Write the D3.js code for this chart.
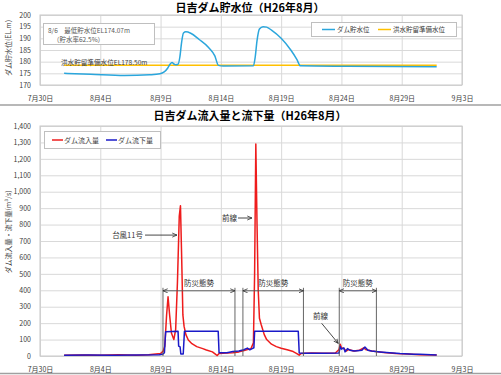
<!DOCTYPE html>
<html lang="ja">
<head>
<meta charset="UTF-8" />
<title>日吉ダム貯水位・流入量と流下量</title>
<script src="https://d3js.org/d3.v7.min.js"></script>
<style>
  body { margin: 0; background: #fff; }
  svg text { font-family: "Noto Sans CJK JP", "Noto Sans", sans-serif; }
</style>
</head>
<body>
<div class="chart"></div>
<script>
// x軸（7/30〜9/3、5日ごと）
const tickLabels = ["7月30日", "8月4日", "8月9日", "8月14日", "8月19日", "8月24日", "8月29日", "9月3日"];

// 貯水位（8月の日付、小数は時刻）
const levelDays = [1.0, 3.2, 6.0, 8.1, 8.95, 9.3, 9.6, 9.8, 9.95, 10.1, 10.25, 10.45, 10.6, 10.75, 10.9, 11.1, 11.5, 12.2, 13.0, 13.5, 13.8, 14.2, 16.7, 16.85, 17.0, 17.2, 17.5, 17.8, 18.2, 19.0, 19.8, 20.3, 20.6, 24.5, 31.9];
const levelValues = [175.0, 174.6, 174.07, 174.4, 174.8, 175.6, 177.3, 179.0, 179.6, 179.0, 178.7, 178.9, 182.0, 188.5, 192.3, 192.8, 192.2, 189.5, 186.0, 182.5, 178.4, 178.1, 178.2, 182.0, 189.0, 194.0, 195.0, 194.8, 193.5, 190.0, 185.0, 181.0, 178.2, 178.0, 177.8];
const prepDays = [1.0, 31.9];
const prepLevel = 178.5;

// 流入量
const inflowDays = [1.0, 2.5, 4.0, 5.5, 7.0, 8.0, 8.6, 9.0, 9.2, 9.35, 9.5, 9.62, 9.75, 9.9, 10.1, 10.25, 10.4, 10.55, 10.65, 10.75, 10.85, 10.95, 11.1, 11.3, 11.6, 12.0, 12.5, 12.8, 13.3, 13.6, 13.7, 13.85, 14.5, 15.0, 15.5, 16.0, 16.5, 16.7, 16.8, 16.9, 17.0, 17.1, 17.2, 17.35, 17.6, 17.8, 18.2, 18.6, 19.0, 19.5, 20.0, 20.3, 20.5, 20.65, 21.5, 22.5, 23.5, 23.8, 23.9, 24.0, 24.2, 24.4, 24.6, 25.0, 25.5, 25.85, 26.0, 26.5, 27.5, 28.5, 29.5, 30.5, 31.9];
const inflowValues = [5, 6, 4, 7, 5, 8, 12, 15, 28, 60, 250, 360, 250, 140, 100, 160, 450, 850, 915, 600, 250, 180, 130, 97, 75, 57, 45, 37, 25, 8, 3, 15, 18, 20, 25, 35, 45, 80, 500, 1290, 800, 400, 230, 190, 130, 100, 72, 57, 47, 38, 27, 15, 5, 15, 18, 16, 18, 40, 72, 50, 45, 30, 40, 30, 35, 50, 40, 30, 22, 15, 12, 8, 6];

// 流下量
const outflowDays = [1.0, 3.0, 5.0, 7.0, 8.9, 9.2, 9.32, 9.42, 10.45, 10.5, 10.62, 10.68, 10.88, 10.98, 13.78, 13.85, 14.5, 15.0, 15.5, 15.9, 16.2, 16.4, 16.6, 16.74, 16.8, 20.42, 20.5, 21.0, 22.5, 23.8, 23.9, 24.0, 24.2, 24.3, 24.5, 24.7, 25.1, 25.7, 25.95, 26.2, 26.5, 27.2, 28.0, 28.85, 30.0, 30.5, 31.9];
const outflowValues = [5, 6, 5, 6, 8, 12, 20, 148, 150, 60, 55, 12, 12, 150, 150, 20, 20, 28, 30, 38, 48, 38, 45, 50, 150, 150, 18, 16, 16, 18, 58, 42, 50, 25, 45, 35, 30, 35, 55, 35, 30, 25, 20, 15, 11, 10, 6];

// 防災態勢（開始・終了）
const stanceStart = [9.2, 15.83, 23.82];
const stanceEnd = [15.17, 20.85, 26.9];

const W = 501, H = 375;
const font = '"Noto Sans CJK JP", "Noto Sans", sans-serif';
const toDate = d => new Date(new Date(2014, 7, 1).getTime() + (d - 1) * 864e5);
const start = new Date(2014, 6, 30);
const tickDates = tickLabels.map((_, i) => d3.timeDay.offset(start, i * 5));

const svg = d3.select(".chart").append("svg")
  .attr("width", W).attr("height", H);

// 区切り線
svg.append("line").attr("x1", 0).attr("x2", W).attr("y1", 105).attr("y2", 105)
  .attr("stroke", "#a0a0a0").attr("stroke-width", 1.5);
svg.append("line").attr("x1", 0).attr("x2", W).attr("y1", 373.5).attr("y2", 373.5)
  .attr("stroke", "#a0a0a0").attr("stroke-width", 1.5);

const x = d3.scaleTime().domain([start, tickDates[tickDates.length - 1]]).range([40, 462]);

function frame(y, ticks, fmt, title, yTitle, yTitleCenter, labelY) {
  const [y0, y1] = y.range();
  // グリッド
  svg.append("g")
    .attr("transform", `translate(0,${y0})`)
    .call(d3.axisBottom(x).tickValues(tickDates).tickSize(-(y0 - y1)).tickFormat(""))
    .call(g => g.select(".domain").remove())
    .call(g => g.selectAll("line").attr("stroke", "#d9d9d9"));
  svg.append("g")
    .attr("transform", "translate(40,0)")
    .call(d3.axisLeft(y).tickValues(ticks).tickSize(-422).tickFormat(""))
    .call(g => g.select(".domain").remove())
    .call(g => g.selectAll("line").attr("stroke", "#d9d9d9"));
  svg.append("rect").attr("x", 40).attr("y", y1).attr("width", 422).attr("height", y0 - y1)
    .attr("fill", "none").attr("stroke", "#c8c8c8");
  // 目盛ラベル
  svg.append("g")
    .attr("transform", "translate(34,0)")
    .call(d3.axisLeft(y).tickValues(ticks).tickSize(0).tickFormat(fmt))
    .call(g => g.select(".domain").remove())
    .call(g => g.selectAll("text").attr("font-size", 7).attr("fill", "#404040").attr("font-family", font));
  svg.append("g")
    .attr("transform", `translate(0,${labelY})`)
    .call(d3.axisBottom(x).tickValues(tickDates).tickSize(0).tickFormat((d, i) => tickLabels[i]))
    .call(g => g.select(".domain").remove())
    .call(g => g.selectAll("text").attr("font-size", 7).attr("fill", "#404040").attr("font-family", font));
  // タイトル
  svg.append("text").attr("x", 250).attr("y", title.y)
    .attr("text-anchor", "middle").attr("font-size", 11).attr("font-weight", "bold")
    .attr("fill", "#000").text(title.text);
  svg.append("text")
    .attr("transform", `translate(11,${yTitleCenter}) rotate(-90)`)
    .attr("text-anchor", "middle").attr("font-size", 7).attr("fill", "#404040")
    .text(yTitle);
}

// ===== 上段：貯水位 =====
const yL = d3.scaleLinear().domain([170, 200]).range([85, 15]);
frame(yL, d3.range(170, 201, 5), d3.format("d"),
  { y: 12, text: "日吉ダム貯水位（H26年8月）" }, "ダム貯水位(EL.m)", 48, 93);

const lineL = d3.line().x(d => x(toDate(d[0]))).y(d => yL(d[1])).curve(d3.curveMonotoneX);
svg.append("path")
  .datum(prepDays.map(d => [d, prepLevel]))
  .attr("d", lineL).attr("fill", "none").attr("stroke", "#ffc000").attr("stroke-width", 1.5);
svg.append("path")
  .datum(levelDays.map((d, i) => [d, levelValues[i]]))
  .attr("d", lineL).attr("fill", "none").attr("stroke", "#2ba6dc").attr("stroke-width", 1.5);

svg.append("text").attr("x", 61).attr("y", yL(prepLevel) - 0.5)
  .attr("font-size", 6.6).attr("fill", "#404040").text("洪水貯留準備水位EL178.50m");

// 注記ボックス
svg.append("rect").attr("x", 43.5).attr("y", 23.5).attr("width", 111).attr("height", 21)
  .attr("fill", "#fff").attr("stroke", "#bfbfbf");
svg.append("text").attr("x", 48).attr("y", 32.5).attr("font-size", 6.5).attr("fill", "#595959")
  .text("8/6　最低貯水位EL174.07m");
svg.append("text").attr("x", 53).attr("y", 41.5).attr("font-size", 6.5).attr("fill", "#595959")
  .text("（貯水率62.5%）");

// 凡例
svg.append("rect").attr("x", 311.5).attr("y", 22.5).attr("width", 145).attr("height", 14)
  .attr("fill", "#fff").attr("stroke", "#bfbfbf");
[["ダム貯水位", "#2ba6dc", 322], ["洪水貯留準備水位", "#ffc000", 378]].forEach(([t, c, lx]) => {
  svg.append("line").attr("x1", lx).attr("x2", lx + 13).attr("y1", 29.5).attr("y2", 29.5)
    .attr("stroke", c).attr("stroke-width", 1.5);
  svg.append("text").attr("x", lx + 15).attr("y", 32).attr("font-size", 6.5).attr("fill", "#404040").text(t);
});

// ===== 下段：流入量と流下量 =====
const yQ = d3.scaleLinear().domain([0, 1400]).range([356, 126]);
frame(yQ, d3.range(0, 1401, 100), d3.format(","),
  { y: 120, text: "日吉ダム流入量と流下量（H26年8月）" }, "ダム流入量・流下量(m³/s)", 232, 364);

const lineQ = d3.line().x(d => x(toDate(d[0]))).y(d => yQ(d[1]));
svg.append("path")
  .datum(inflowDays.map((d, i) => [d, inflowValues[i]]))
  .attr("d", lineQ).attr("fill", "none").attr("stroke", "#ee1c1c").attr("stroke-width", 1.5)
  .attr("stroke-linejoin", "round");
svg.append("path")
  .datum(outflowDays.map((d, i) => [d, outflowValues[i]]))
  .attr("d", lineQ).attr("fill", "none").attr("stroke", "#1a1ac8").attr("stroke-width", 1.5)
  .attr("stroke-linejoin", "round");

// 矢印マーカー
const defs = svg.append("defs");
defs.append("marker").attr("id", "arr").attr("viewBox", "0 0 8 8")
  .attr("refX", 7).attr("refY", 4).attr("markerWidth", 6).attr("markerHeight", 6)
  .attr("orient", "auto-start-reverse")
  .append("path").attr("d", "M0,1 L7,4 L0,7").attr("fill", "none").attr("stroke", "#333").attr("stroke-width", 1.2);

// 防災態勢
stanceStart.forEach((s, i) => {
  const e = stanceEnd[i];
  [s, e].forEach(d => {
    svg.append("line").attr("x1", x(toDate(d))).attr("x2", x(toDate(d)))
      .attr("y1", yQ(415)).attr("y2", yQ(0)).attr("stroke", "#555").attr("stroke-width", 0.9);
  });
  svg.append("line").attr("x1", x(toDate(s))).attr("x2", x(toDate(e)))
    .attr("y1", yQ(397)).attr("y2", yQ(397)).attr("stroke", "#555").attr("stroke-width", 0.9)
    .attr("marker-start", "url(#arr)").attr("marker-end", "url(#arr)");
  svg.append("text").attr("x", (x(toDate(s)) + x(toDate(e))) / 2).attr("y", yQ(425))
    .attr("text-anchor", "middle").attr("font-size", 7.5).attr("fill", "#333").text("防災態勢");
});

// 台風・前線の注記
function note(text, tx, tv, a0, a1, anchor) {
  svg.append("text").attr("x", x(toDate(tx))).attr("y", yQ(tv) + 2.5)
    .attr("text-anchor", anchor).attr("font-size", 7.5).attr("fill", "#333").text(text);
  svg.append("line")
    .attr("x1", x(toDate(a0[0]))).attr("y1", yQ(a0[1]))
    .attr("x2", x(toDate(a1[0]))).attr("y2", yQ(a1[1]))
    .attr("stroke", "#333").attr("stroke-width", 0.9).attr("marker-end", "url(#arr)");
}
note("台風11号", 7.54, 736, [7.71, 736], [10.36, 736], "end");
note("前線", 15.33, 840, [15.42, 840], [16.58, 840], "end");
note("前線", 22.26, 240, [22.36, 199], [23.73, 77], "middle");

// 凡例
svg.append("rect").attr("x", 44.5).attr("y", 131.5).attr("width", 116).attr("height", 17)
  .attr("fill", "#fff").attr("stroke", "#bfbfbf");
[["ダム流入量", "#ee1c1c", 52], ["ダム流下量", "#1a1ac8", 106]].forEach(([t, c, lx]) => {
  svg.append("line").attr("x1", lx).attr("x2", lx + 11).attr("y1", 140).attr("y2", 140)
    .attr("stroke", c).attr("stroke-width", 1.5);
  svg.append("text").attr("x", lx + 12).attr("y", 142.5).attr("font-size", 7).attr("fill", "#404040").text(t);
});
</script>
</body>
</html>
